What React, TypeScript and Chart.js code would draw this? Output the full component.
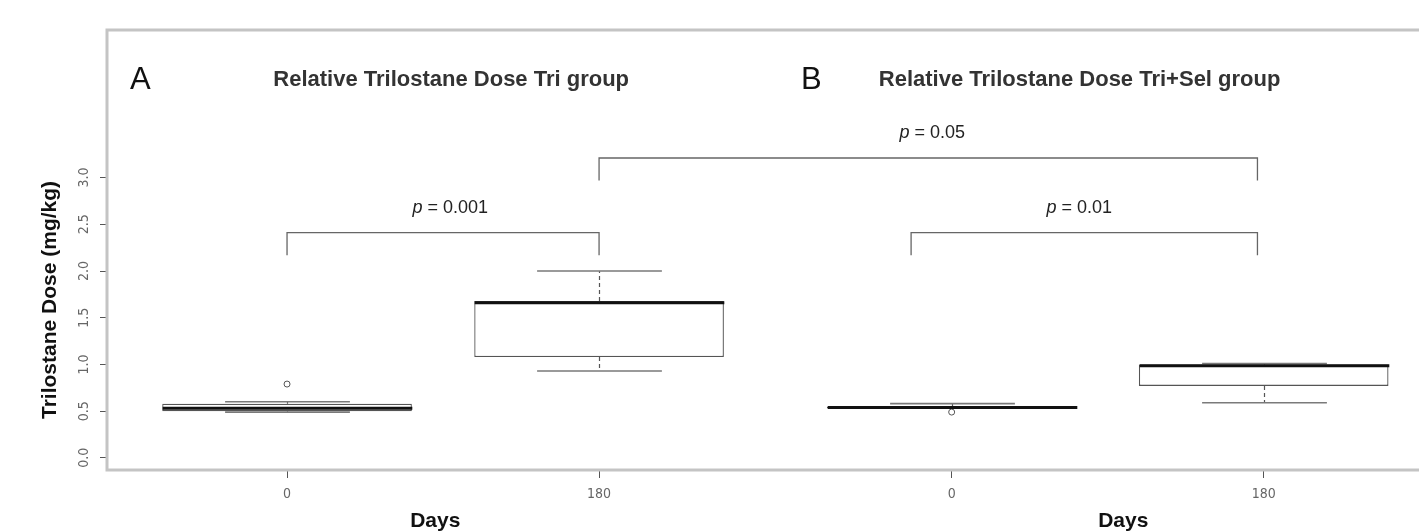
import React, { useEffect, useRef } from "react";
import { Chart, registerables } from "chart.js";

Chart.register(...registerables);

// ---- data ----
const dayLabels = ["0", "180", "0", "180"];
const groupPositions = [0, 1, 2.13, 3.13];
const whiskerLow = [0.49, 0.93, 0.54, 0.59];
const q1 = [0.5, 1.08, 0.535, 0.77];
const median = [0.53, 1.66, 0.54, 0.985];
const q3 = [0.58, 1.68, 0.545, 1.0];
const whiskerHigh = [0.6, 2.0, 0.58, 1.01];
const outlierX = [0, 2.13];
const outlierY = [0.79, 0.49];
const yTicks = [0, 0.5, 1, 1.5, 2, 2.5, 3];

const panelLetters = ["A", "B"];
const panelTitles = ["Relative Trilostane Dose Tri group", "Relative Trilostane Dose Tri+Sel group"];
const panelLetterX = [-0.47, 1.68];
const panelTitleX = [0.526, 2.54];
const daysTitleX = [0.475, 2.68];

const pValues = ["0.001", "0.05", "0.01"];
const pLabelX = [0.523, 2.068, 2.539];
const bracketFrom = [0, 1, 2.0];
const bracketTo = [1, 3.11, 3.11];
const bracketY = [2.41, 3.21, 2.41];
const bracketLegY = [2.17, 2.97, 2.17];

const NARROW = "'Liberation Sans Narrow', 'DejaVu Sans Condensed', 'Liberation Sans', Arial, sans-serif";
const SANS = "'Liberation Sans', Arial, sans-serif";

const extrasPlugin = {
  id: "boxExtras",
  afterDatasetsDraw(chart: any) {
    const { ctx } = chart;
    const xs = chart.scales.x;
    const ys = chart.scales.y;
    const unit = xs.getPixelForValue(1) - xs.getPixelForValue(0);
    const capHalf = unit * 0.2;
    const boxHalf = unit * 0.4;
    ctx.save();
    groupPositions.forEach((pos, i) => {
      const cx = Math.round(xs.getPixelForValue(pos)) + 0.5;
      // whiskers
      ctx.strokeStyle = "#555";
      ctx.lineWidth = 1.2;
      ctx.setLineDash([4, 3]);
      ctx.beginPath();
      ctx.moveTo(cx, ys.getPixelForValue(q3[i]));
      ctx.lineTo(cx, ys.getPixelForValue(whiskerHigh[i]));
      ctx.moveTo(cx, ys.getPixelForValue(q1[i]));
      ctx.lineTo(cx, ys.getPixelForValue(whiskerLow[i]));
      ctx.stroke();
      ctx.setLineDash([]);
      // caps
      ctx.strokeStyle = "#7a7a7a";
      ctx.lineWidth = 1.6;
      ctx.beginPath();
      const yh = ys.getPixelForValue(whiskerHigh[i]);
      const yl = ys.getPixelForValue(whiskerLow[i]);
      ctx.moveTo(cx - capHalf, yh);
      ctx.lineTo(cx + capHalf, yh);
      ctx.moveTo(cx - capHalf, yl);
      ctx.lineTo(cx + capHalf, yl);
      ctx.stroke();
      // median
      ctx.strokeStyle = "#111";
      ctx.lineWidth = 3;
      ctx.beginPath();
      const ym = ys.getPixelForValue(median[i]);
      ctx.moveTo(cx - boxHalf, ym);
      ctx.lineTo(cx + boxHalf, ym);
      ctx.stroke();
    });
    ctx.restore();
  },
  afterDraw(chart: any) {
    const { ctx, chartArea } = chart;
    const xs = chart.scales.x;
    const ys = chart.scales.y;
    ctx.save();
    // frame
    ctx.strokeStyle = "#c4c4c4";
    ctx.lineWidth = 3;
    ctx.strokeRect(chartArea.left, chartArea.top, chartArea.right - chartArea.left, chartArea.bottom - chartArea.top);

    // brackets
    ctx.strokeStyle = "#666";
    ctx.lineWidth = 1.3;
    bracketFrom.forEach((from, i) => {
      const x1 = xs.getPixelForValue(from);
      const x2 = xs.getPixelForValue(bracketTo[i]);
      const y = ys.getPixelForValue(bracketY[i]);
      const yl = ys.getPixelForValue(bracketLegY[i]);
      ctx.beginPath();
      ctx.moveTo(x1, yl);
      ctx.lineTo(x1, y);
      ctx.lineTo(x2, y);
      ctx.lineTo(x2, yl);
      ctx.stroke();
      // p label
      const cx = xs.getPixelForValue(pLabelX[i]);
      const ty = ys.getPixelForValue(bracketY[i] + 0.215);
      ctx.fillStyle = "#222";
      ctx.textBaseline = "alphabetic";
      ctx.font = `italic 18px ${SANS}`;
      const pw = ctx.measureText("p").width;
      ctx.font = `18px ${SANS}`;
      const rest = " = " + pValues[i];
      const rw = ctx.measureText(rest).width;
      const sx = cx - (pw + rw) / 2;
      ctx.textAlign = "left";
      ctx.font = `italic 18px ${SANS}`;
      ctx.fillText("p", sx, ty);
      ctx.font = `18px ${SANS}`;
      ctx.fillText(rest, sx + pw, ty);
    });

    // panel letters and titles
    ctx.textAlign = "center";
    ctx.textBaseline = "alphabetic";
    panelLetters.forEach((l, i) => {
      ctx.fillStyle = "#111";
      ctx.font = `31px ${SANS}`;
      ctx.fillText(l, xs.getPixelForValue(panelLetterX[i]), ys.getPixelForValue(3.95));
      ctx.fillStyle = "#333";
      ctx.font = `bold 22px ${SANS}`;
      ctx.fillText(panelTitles[i], xs.getPixelForValue(panelTitleX[i]), ys.getPixelForValue(3.98));
      // x axis titles
      ctx.fillStyle = "#111";
      ctx.font = `bold 21px ${SANS}`;
      ctx.fillText("Days", xs.getPixelForValue(daysTitleX[i]), chartArea.bottom + 57);
    });

    // y axis title
    ctx.save();
    ctx.translate(chartArea.left - 57, ys.getPixelForValue(1.69));
    ctx.rotate(-Math.PI / 2);
    ctx.textAlign = "center";
    ctx.textBaseline = "middle";
    ctx.fillStyle = "#111";
    ctx.font = `bold 21px ${SANS}`;
    ctx.fillText("Trilostane Dose (mg/kg)", 0, 0);
    ctx.restore();

    ctx.restore();
  },
};

export default function App() {
  const ref = useRef<HTMLCanvasElement | null>(null);
  useEffect(() => {
    if (!ref.current) return;
    const chart = new Chart(ref.current, {
      type: "bar",
      data: {
        datasets: [
          {
            type: "bar",
            data: groupPositions.map((x, i) => ({ x, y: [q1[i], q3[i]] })) as any,
            backgroundColor: "#ffffff",
            borderColor: "#555",
            borderWidth: 1.3,
            borderSkipped: false,
            barPercentage: 0.8,
            categoryPercentage: 1,
          } as any,
          {
            type: "scatter",
            data: outlierX.map((x, i) => ({ x, y: outlierY[i] })),
            pointStyle: "circle",
            pointRadius: 3,
            borderColor: "#555",
            backgroundColor: "#fff",
            borderWidth: 1,
          } as any,
        ],
      },
      options: {
        animation: false,
        responsive: false,
        devicePixelRatio: 1,
        layout: { padding: { top: 30, right: 10, left: 0, bottom: 0 } },
        plugins: {
          legend: { display: false },
          tooltip: { enabled: false },
          title: { display: false },
        },
        scales: {
          x: {
            type: "linear",
            min: -0.577,
            max: 3.663,
            offset: false,
            afterBuildTicks: (s: any) => {
              s.ticks = groupPositions.map((v) => ({ value: v }));
            },
            afterFit: (s: any) => {
              s.height = 61;
            },
            ticks: {
              callback: (_v: any, idx: number) => dayLabels[idx],
              autoSkip: false,
              minRotation: 0,
              maxRotation: 0,
              padding: 8,
              color: "#666",
              font: { family: NARROW, size: 14 },
            },
            grid: {
              offset: false,
              drawOnChartArea: false,
              drawTicks: true,
              tickLength: 8,
              color: "#555",
              lineWidth: 1,
            },
            border: { display: false },
          },
          y: {
            type: "linear",
            min: -0.13,
            max: 4.58,
            afterBuildTicks: (s: any) => {
              s.ticks = yTicks.map((v) => ({ value: v }));
            },
            afterFit: (s: any) => {
              s.width = 107;
            },
            ticks: {
              callback: (v: any) => Number(v).toFixed(1),
              minRotation: 90,
              maxRotation: 90,
              crossAlign: "center",
              padding: 6,
              color: "#666",
              font: { family: NARROW, size: 14 },
            },
            grid: {
              offset: false,
              drawOnChartArea: false,
              drawTicks: true,
              tickLength: 7,
              color: "#555",
              lineWidth: 1,
            },
            border: { display: false },
          },
        } as any,
      },
      plugins: [extrasPlugin],
    });
    return () => chart.destroy();
  }, []);

  return (
    <div
      style={{
        position: "fixed",
        left: 0,
        top: 0,
        width: 1419,
        height: 531,
        overflow: "hidden",
        background: "#fff",
      }}
    >
      <canvas ref={ref} width={1440} height={531} style={{ display: "block", width: 1440, height: 531 }} />
    </div>
  );
}
